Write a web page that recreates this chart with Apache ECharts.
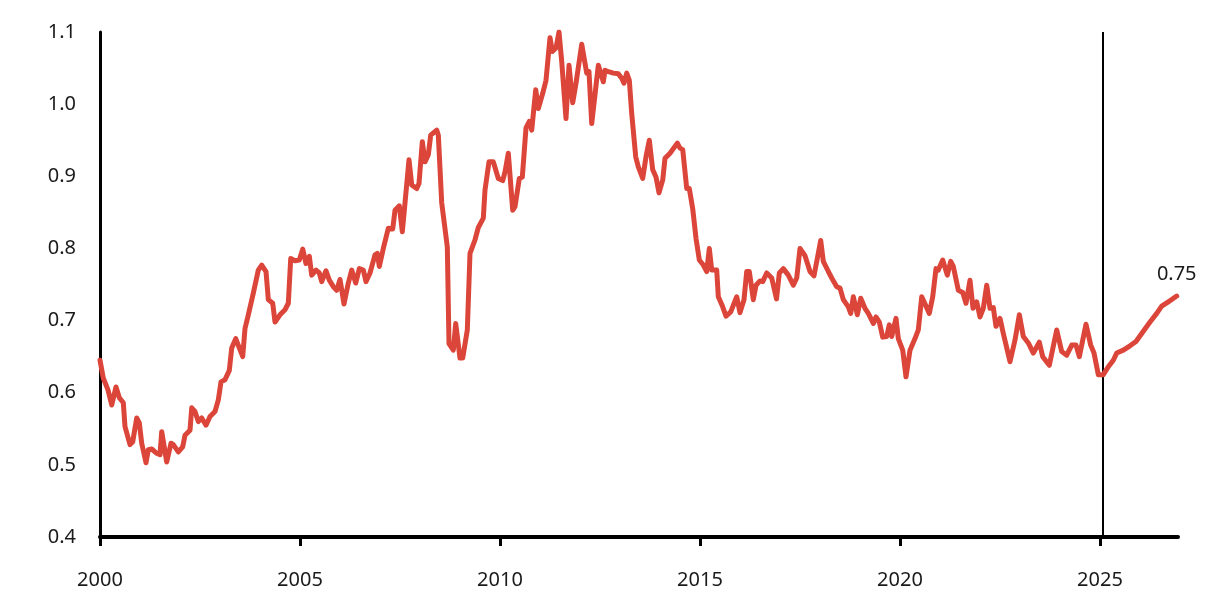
<!DOCTYPE html>
<html>
<head>
<meta charset="utf-8">
<script src="https://cdn.jsdelivr.net/npm/echarts@6/dist/echarts.min.js"></script>
<style>
html,body{margin:0;padding:0;background:#fff;}
#chart{width:1228px;height:600px;}
</style>
</head>
<body>
<div id="chart"></div>
<script>
// Time in decimal years
const dates = [
2000.000,2000.083,2000.200,2000.293,2000.400,2000.483,2000.583,2000.625,2000.750,2000.818,2000.918,2000.983,
2001.043,2001.150,2001.208,2001.293,2001.418,2001.500,2001.543,2001.668,2001.775,2001.833,2001.958,
2002.068,2002.125,2002.250,2002.293,2002.375,2002.458,2002.543,2002.650,2002.750,2002.875,2002.958,
2003.025,2003.125,2003.233,2003.293,2003.393,2003.568,2003.625,2003.708,2003.833,2003.958,
2004.043,2004.150,2004.208,2004.318,2004.375,2004.500,2004.625,2004.708,2004.768,2004.875,2004.983,
2005.068,2005.150,2005.233,2005.293,2005.400,2005.483,2005.543,2005.650,2005.733,2005.833,2005.918,
2006.000,2006.100,2006.208,2006.293,2006.393,2006.483,2006.583,2006.650,2006.750,2006.875,2006.933,2006.983,
2007.083,2007.208,2007.318,2007.375,2007.483,2007.558,2007.625,2007.725,2007.793,2007.918,2007.975,
2008.058,2008.125,2008.208,2008.268,2008.418,2008.458,2008.543,2008.683,2008.725,2008.833,2008.893,
2009.000,2009.068,2009.183,2009.250,2009.375,2009.458,2009.583,2009.625,2009.725,2009.833,2009.958,
2010.068,2010.125,2010.208,2010.318,2010.375,2010.483,2010.558,2010.650,2010.733,2010.793,2010.893,2010.958,
2011.068,2011.150,2011.250,2011.308,2011.400,2011.475,2011.543,2011.650,2011.725,2011.818,2011.900,
2012.043,2012.168,2012.225,2012.293,2012.458,2012.583,2012.625,2012.708,2012.833,2012.958,
2013.043,2013.100,2013.168,2013.233,2013.293,2013.393,2013.458,2013.568,2013.650,2013.733,2013.818,2013.900,2013.975,
2014.068,2014.125,2014.250,2014.433,2014.500,2014.568,2014.668,2014.733,2014.818,2014.900,2014.983,
2015.083,2015.168,2015.233,2015.293,2015.418,2015.458,2015.568,2015.650,2015.768,2015.918,
2016.000,2016.100,2016.168,2016.233,2016.333,2016.400,2016.500,2016.568,2016.668,2016.793,2016.913,2016.983,
2017.083,2017.208,2017.333,2017.418,2017.500,2017.625,2017.668,2017.750,2017.850,
2018.018,2018.083,2018.208,2018.293,2018.418,2018.500,2018.583,2018.708,2018.768,2018.833,2018.933,
2019.018,2019.125,2019.208,2019.333,2019.400,2019.483,2019.568,2019.668,2019.733,2019.793,2019.900,2019.958,
2020.068,2020.150,2020.250,2020.375,2020.458,2020.543,2020.583,2020.733,2020.818,2020.900,2020.958,
2021.068,2021.183,2021.268,2021.333,2021.458,2021.568,2021.650,2021.750,2021.825,2021.918,
2022.000,2022.083,2022.168,2022.250,2022.333,2022.400,2022.500,2022.583,2022.750,2022.875,2022.983,
2023.083,2023.208,2023.333,2023.483,2023.568,2023.733,2023.918,
2024.043,2024.168,2024.293,2024.400,2024.483,2024.650,2024.768,2024.850,2024.958,
2025.083,2025.208,2025.333,2025.418,2025.583,2025.750,2025.900,
2026.043,2026.250,2026.418,2026.543,2026.708,2026.918
];
const values = [
0.645,0.620,0.604,0.583,0.608,0.593,0.586,0.553,0.528,0.532,0.565,0.558,
0.530,0.503,0.521,0.522,0.516,0.514,0.546,0.504,0.530,0.528,0.518,
0.525,0.541,0.548,0.579,0.574,0.560,0.565,0.555,0.567,0.574,0.590,
0.615,0.618,0.631,0.662,0.675,0.650,0.689,0.708,0.738,0.770,
0.777,0.768,0.729,0.724,0.698,0.708,0.715,0.724,0.786,0.783,0.784,
0.799,0.779,0.789,0.763,0.770,0.766,0.754,0.769,0.756,0.747,0.742,
0.757,0.723,0.752,0.770,0.752,0.772,0.770,0.754,0.766,0.791,0.793,0.775,
0.800,0.828,0.827,0.853,0.859,0.823,0.863,0.923,0.888,0.883,0.890,
0.948,0.920,0.930,0.957,0.964,0.957,0.863,0.802,0.668,0.659,0.696,
0.648,0.648,0.687,0.793,0.812,0.829,0.842,0.881,0.920,0.920,0.897,
0.894,0.906,0.932,0.853,0.858,0.897,0.899,0.967,0.976,0.964,1.020,0.994,
1.015,1.033,1.092,1.073,1.078,1.100,1.059,0.980,1.054,1.002,1.029,
1.083,1.043,1.045,0.973,1.054,1.031,1.047,1.045,1.043,1.042,
1.036,1.029,1.043,1.033,0.987,0.927,0.913,0.897,0.927,0.950,0.909,0.899,0.877,
0.895,0.925,0.932,0.946,0.939,0.937,0.883,0.883,0.855,0.814,0.784,
0.777,0.768,0.800,0.770,0.770,0.733,0.719,0.706,0.712,0.733,
0.711,0.729,0.768,0.768,0.729,0.749,0.755,0.754,0.766,0.759,0.730,0.766,
0.772,0.763,0.749,0.759,0.800,0.790,0.788,0.768,0.762,
0.811,0.782,0.768,0.759,0.747,0.745,0.729,0.719,0.710,0.733,0.708,
0.731,0.717,0.710,0.696,0.705,0.698,0.677,0.678,0.694,0.678,0.703,0.675,
0.659,0.622,0.659,0.675,0.687,0.733,0.735,0.710,0.733,0.772,0.770,
0.784,0.763,0.782,0.775,0.742,0.739,0.724,0.756,0.717,0.726,
0.705,0.717,0.749,0.717,0.718,0.692,0.703,0.682,0.643,0.673,0.708,
0.678,0.669,0.655,0.670,0.650,0.638,0.687,
0.657,0.652,0.666,0.666,0.650,0.695,0.666,0.655,0.625,
0.625,0.636,0.645,0.655,0.659,0.665,0.671,
0.682,0.698,0.710,0.720,0.726,0.734
];
const yTicks = [0.4, 0.5, 0.6, 0.7, 0.8, 0.9, 1.0, 1.1];
const xTickYears = [2000, 2005, 2010, 2015, 2020, 2025];
const forecastStart = 2025.083;
const endLabelText = '0.75';

const seriesData = dates.map((d, i) => [d, values[i]]);
const last = seriesData[seriesData.length - 1];
const FONT = 'Noto Sans';

const chart = echarts.init(document.getElementById('chart'), null, {renderer: 'canvas'});
chart.setOption({
  animation: false,
  backgroundColor: '#ffffff',
  grid: {left: 100, right: 50, top: 32, bottom: 63, containLabel: false},
  xAxis: {
    type: 'value',
    min: xTickYears[0],
    max: 2026.95,
    interval: 5,
    axisLine: {show: true, onZero: false, lineStyle: {color: '#000', width: 4}},
    axisTick: {show: true, length: 9, customValues: xTickYears, lineStyle: {color: '#000', width: 3}},
    splitLine: {show: false},
    axisLabel: {
      margin: 33,
      color: '#1a1a1a',
      fontFamily: FONT,
      fontSize: 20,
      customValues: xTickYears,
      formatter: v => String(Math.round(v))
    }
  },
  yAxis: {
    type: 'value',
    min: yTicks[0],
    max: yTicks[yTicks.length - 1],
    interval: 0.1,
    axisLine: {show: true, lineStyle: {color: '#000', width: 3}},
    axisTick: {show: false},
    splitLine: {show: false},
    axisLabel: {
      margin: 24,
      color: '#1a1a1a',
      fontFamily: FONT,
      fontSize: 20,
      formatter: v => v.toFixed(1)
    }
  },
  series: [{
    type: 'line',
    data: seriesData,
    showSymbol: false,
    symbol: 'none',
    lineStyle: {color: '#dc4539', width: 5, join: 'round', cap: 'round'},
    z: 3,
    markLine: {
      silent: true,
      symbol: ['none', 'none'],
      label: {show: false},
      lineStyle: {color: '#000', width: 2, type: 'solid'},
      data: [{xAxis: forecastStart}],
      z: 2
    },
    markPoint: {
      symbol: 'circle',
      symbolSize: 0,
      data: [{coord: last}],
      label: {
        show: true,
        position: 'top',
        distance: 12,
        formatter: endLabelText,
        color: '#1a1a1a',
        fontFamily: FONT,
        fontSize: 20
      }
    }
  }]
});
</script>
</body>
</html>
